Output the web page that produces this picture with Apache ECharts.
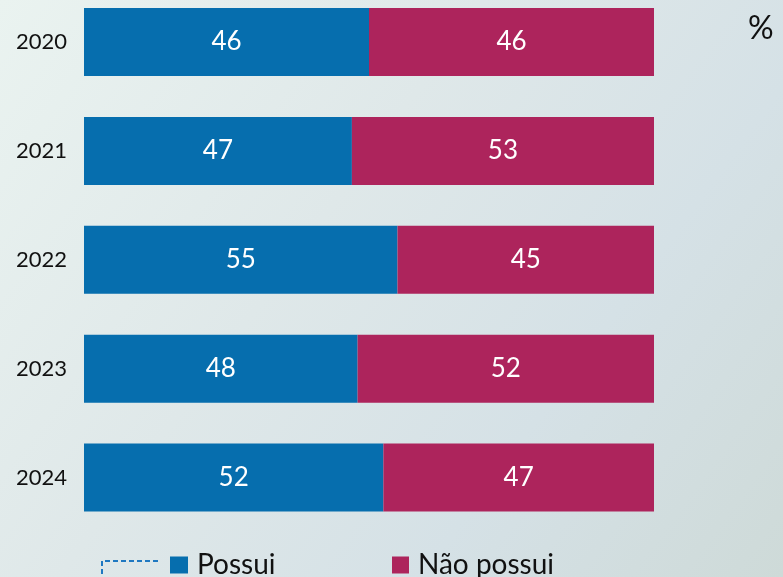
<!DOCTYPE html>
<html>
<head>
<meta charset="utf-8">
<script src="https://cdn.jsdelivr.net/npm/echarts@6/dist/echarts.min.js"></script>
<style>
  html, body { margin: 0; padding: 0; }
  #chart { width: 783px; height: 577px; }
</style>
</head>
<body>
<div id="chart"></div>
<script>
// dados
var years = ['2020', '2021', '2022', '2023', '2024'];
var possui = [46, 47, 55, 48, 52];
var naoPossui = [46, 53, 45, 52, 47];

// as barras ocupam 100% da largura: cada parte é a fatia do total do ano
function share(a, b) {
  return a.map(function (v, i) { return v / (a[i] + b[i]) * 100; });
}
var possuiShare = share(possui, naoPossui);
var naoShare = share(naoPossui, possui);

var chart = echarts.init(document.getElementById('chart'));

var font = 'Lato, "Open Sans", sans-serif';

var legendText = { fontSize: 28, color: '#111', fontFamily: font, padding: [0, 0, 0, 4] };

var option = {
  backgroundColor: {
    type: 'linear', x: 0, y: 0, x2: 1, y2: 1,
    colorStops: [
      { offset: 0, color: '#eaf3f0' },
      { offset: 0.4, color: '#dfe8e9' },
      { offset: 0.7, color: '#d5e1e6' },
      { offset: 1, color: '#cedad8' }
    ]
  },
  animation: false,
  textStyle: { fontFamily: font },
  // boundaryGap false: as barras ficam centradas nos ticks
  grid: { left: 84, right: 129, top: 42, height: 435.5 },
  xAxis: {
    type: 'value',
    min: 0,
    max: 100,
    show: false
  },
  yAxis: {
    type: 'category',
    data: years,
    inverse: true,
    boundaryGap: false,
    axisLine: { show: false },
    axisTick: { show: false },
    splitLine: { show: false },
    axisLabel: { color: '#111', fontSize: 22, margin: 17, fontFamily: font }
  },
  legend: [
    {
      left: 170, top: 551, padding: 0,
      itemWidth: 18, itemHeight: 17, icon: 'rect', itemGap: 0,
      textStyle: legendText,
      data: ['Possui']
    },
    {
      left: 392, top: 551, padding: 0,
      itemWidth: 17, itemHeight: 17, icon: 'rect', itemGap: 0,
      textStyle: legendText,
      data: ['Não possui']
    }
  ],
  graphic: [
    {
      type: 'text',
      left: 748,
      top: 13,
      style: { text: '%', fontSize: 32, fill: '#111', fontFamily: font }
    },
    {
      type: 'polyline',
      shape: { points: [[158, 561], [102, 561], [102, 577]] },
      style: { stroke: '#1f78c1', lineWidth: 2, lineDash: [5, 3], fill: null }
    }
  ],
  series: [
    {
      name: 'Possui',
      type: 'bar',
      stack: 'total',
      barWidth: 68,
      itemStyle: { color: '#066eae' },
      label: {
        show: true,
        position: 'inside',
        color: '#fff',
        fontSize: 26,
        fontFamily: font,
        formatter: function (p) { return possui[p.dataIndex]; }
      },
      data: possuiShare
    },
    {
      name: 'Não possui',
      type: 'bar',
      stack: 'total',
      barWidth: 68,
      itemStyle: { color: '#ad245c' },
      label: {
        show: true,
        position: 'inside',
        color: '#fff',
        fontSize: 26,
        fontFamily: font,
        formatter: function (p) { return naoPossui[p.dataIndex]; }
      },
      data: naoShare
    }
  ]
};

chart.setOption(option);
</script>
</body>
</html>
